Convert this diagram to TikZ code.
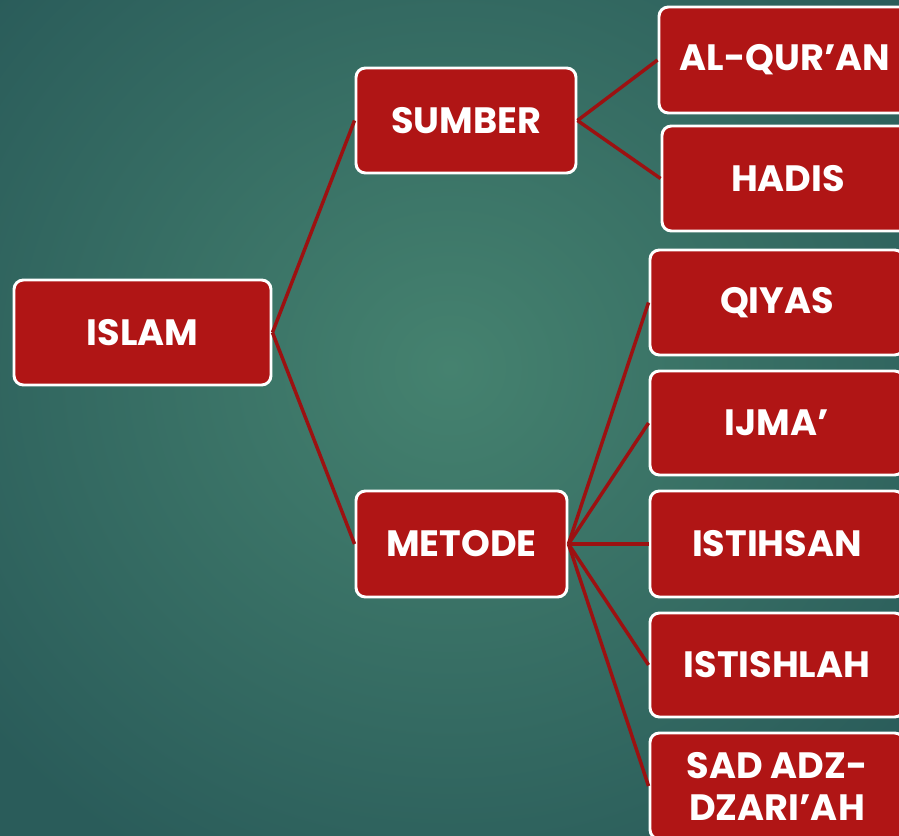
\documentclass[tikz,border=0pt]{standalone}
\usepackage{fontspec}
\setmainfont{Poppins}
\definecolor{bgin}{HTML}{45826F}
\definecolor{bgout}{HTML}{2A5C5A}
\definecolor{boxred}{HTML}{B01515}
\definecolor{linered}{HTML}{9C1111}
\begin{document}
\begin{tikzpicture}[x=0.75pt,y=-0.75pt,
  box/.style={draw=white, line width=2.2pt, fill=boxred, rounded corners=7pt,
    text=white, font=\fontsize{27.5}{31.5}\selectfont\bfseries, align=center, inner sep=0pt},
  conn/.style={draw=linered, line width=2.6pt}]
\useasboundingbox (0,0) rectangle (899,835);
\shade[inner color=bgin, outer color=bgout] (-150,-200) rectangle (1050,935);
\node[box, minimum width=257*0.75pt, minimum height=105*0.75pt] (islam) at (142.5,332.5) {ISLAM};
\node[box, minimum width=220*0.75pt, minimum height=105*0.75pt] (sumber) at (466,120.5) {SUMBER};
\node[box, minimum width=211*0.75pt, minimum height=106*0.75pt] (metode) at (461.5,544) {METODE};
\node[box, minimum width=252*0.75pt, minimum height=106*0.75pt] (quran) at (785,60) {AL-QUR’AN};
\node[box, minimum width=252*0.75pt, minimum height=105*0.75pt] (hadis) at (788,178.5) {HADIS};
\node[box, minimum width=254*0.75pt, minimum height=105*0.75pt] (qiyas) at (777,302.5) {QIYAS};
\node[box, minimum width=254*0.75pt, minimum height=104*0.75pt] (ijma) at (777,423) {IJMA’};
\node[box, minimum width=254*0.75pt, minimum height=106*0.75pt] (istihsan) at (777,544) {ISTIHSAN};
\node[box, minimum width=254*0.75pt, minimum height=104*0.75pt] (istishlah) at (777,665) {ISTISHLAH};
\node[box, minimum width=254*0.75pt, minimum height=106*0.75pt] (sad) at (777,786) {SAD ADZ-\\DZARI’AH};
\draw[conn] (islam.east) -- (sumber.west);
\draw[conn] (islam.east) -- (metode.west);
\draw[conn] (sumber.east) -- (quran.west);
\draw[conn] (sumber.east) -- (hadis.west);
\foreach \n in {qiyas,ijma,istihsan,istishlah,sad}
  \draw[conn] (metode.east) -- (\n.west);
\end{tikzpicture}
\end{document}
